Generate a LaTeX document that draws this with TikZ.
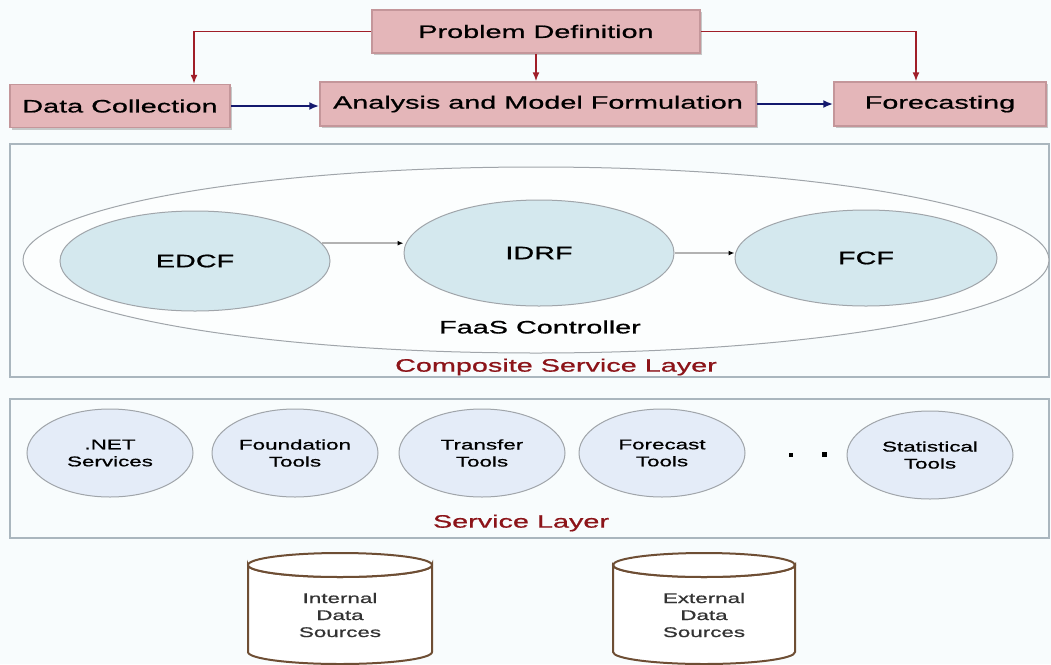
\documentclass[tikz,border=0pt]{standalone}
\usepackage{fontspec}
\setmainfont[FakeStretch=1.6,FakeBold=0.8]{Liberation Sans}
\usetikzlibrary{arrows.meta,shadows,shapes.geometric}
\definecolor{bg}{RGB}{248,252,253}
\definecolor{pinkfill}{RGB}{228,182,185}
\definecolor{pinkdraw}{RGB}{196,150,154}
\definecolor{arrred}{RGB}{160,30,40}
\definecolor{navyblue}{RGB}{20,25,110}
\definecolor{layerdraw}{RGB}{170,182,190}
\definecolor{ellfill}{RGB}{212,232,238}
\definecolor{circfill}{RGB}{228,236,248}
\definecolor{ringdraw}{RGB}{160,165,170}
\definecolor{cylbrown}{RGB}{110,78,52}
\definecolor{layertext}{RGB}{140,20,25}
\begin{document}
\begin{tikzpicture}[x=1pt,y=-1pt,
  pinkbox/.style={rectangle, draw=pinkdraw, line width=1.5pt, fill=pinkfill, inner sep=0pt,
    font=\fontsize{18}{20}\selectfont,
    drop shadow={shadow xshift=2pt, shadow yshift=-2pt, fill=gray!70, opacity=0.6}},
  redarr/.style={draw=arrred, line width=1.5pt, -{Latex[length=9pt,width=7pt]}},
  bluearr/.style={draw=navyblue, line width=2.2pt, -{Latex[length=10pt,width=8pt]}},
  grayarr/.style={draw=gray!60, line width=1.5pt, -{Latex[length=6pt,width=5pt,color=black]}},
  layerbox/.style={rectangle, draw=layerdraw, line width=2pt, fill=bg, inner sep=0pt},
  bigell/.style={ellipse, draw=ringdraw, line width=1pt, fill=white!60!bg, inner sep=0pt},
  blueell/.style={ellipse, draw=ringdraw, line width=1pt, fill=ellfill, inner sep=0pt,
    font=\fontsize{18}{20}\selectfont},
  tool/.style={ellipse, draw=ringdraw, line width=1pt, fill=circfill, inner sep=0pt,
    minimum width=166pt, minimum height=88pt, align=center, font=\fontsize{14}{17}\selectfont},
  bigtext/.style={inner sep=0pt, font=\fontsize{18}{20}\selectfont},
  cyl/.style={draw=cylbrown, line width=2pt, fill=white},
  cyltext/.style={inner sep=0pt, align=center, font=\fontsize{14}{17}\selectfont, text=black!80}
]
\fill[bg] (0,0) rectangle (1051,664);
\useasboundingbox (0,0) rectangle (1051,664);

% top process boxes
\node[pinkbox, minimum width=328pt, minimum height=43pt] (pd) at (536,31.5) {Problem Definition};
\node[pinkbox, minimum width=220pt, minimum height=43pt] (dc) at (120,106) {Data Collection};
\node[pinkbox, minimum width=436pt, minimum height=44pt] (amf) at (538,104) {Analysis and Model Formulation};
\node[pinkbox, minimum width=212pt, minimum height=44pt] (fc) at (940,104) {Forecasting};

\draw[redarr] (pd.west) -| ([xshift=74pt]dc.north);
\draw[redarr] (pd.south) -- (pd.south |- amf.north);
\draw[redarr] (pd.east) -| ([xshift=-24pt]fc.north);
\draw[bluearr] (dc.east) -- (dc.east -| amf.west);
\draw[bluearr] (amf.east) -- (amf.east -| fc.west);

% composite service layer
\node[layerbox, minimum width=1039pt, minimum height=233pt] (csl) at (529.5,260.5) {};
\node[bigell, minimum width=1026pt, minimum height=186pt] (faas) at (536,260) {};
\node[blueell, minimum width=270pt, minimum height=100pt] (edcf) at (195,261) {EDCF};
\node[blueell, minimum width=270pt, minimum height=106pt] (idrf) at (539,253) {IDRF};
\node[blueell, minimum width=262pt, minimum height=96pt] (fcf) at (866,258) {FCF};
\draw[grayarr] (edcf.8) -- (edcf.8 -| idrf.west);
\draw[grayarr] (idrf.east) -- (idrf.east -| fcf.west);
\node[bigtext] (faaslabel) at (540,327) {FaaS Controller};
\node[bigtext, text=layertext] (csllabel) at (556,367) {Composite Service Layer};

% service layer
\node[layerbox, minimum width=1039pt, minimum height=139pt] (sl) at (529.5,468.5) {};
\node[tool] (net) at (110,453) {.NET\\Services};
\node[tool] (found) at (295,453) {Foundation\\Tools};
\node[tool] (trans) at (482,453) {Transfer\\Tools};
\node[tool] (fcast) at (662,453) {Forecast\\Tools};
\node[tool] (stat) at (930,455) {Statistical\\Tools};
\fill[black] (789,453) rectangle (793,457);
\fill[black] (822,452) rectangle (827,457);
\node[bigtext, text=layertext] (sllabel) at (521,523) {Service Layer};

% data sources
\path[cyl] (248,565) -- (248,652) arc[start angle=180, end angle=0, x radius=92, y radius=12] -- (432,565) arc[start angle=0, end angle=180, x radius=92, y radius=12] -- cycle;
\draw[cyl] (340,565) ellipse[x radius=92, y radius=12];
\node[cyltext] (ids) at (340,615) {Internal\\Data\\Sources};
\path[cyl] (613,565) -- (613,652) arc[start angle=180, end angle=0, x radius=91, y radius=12] -- (795,565) arc[start angle=0, end angle=180, x radius=91, y radius=12] -- cycle;
\draw[cyl] (704,565) ellipse[x radius=91, y radius=12];
\node[cyltext] (eds) at (704,615) {External\\Data\\Sources};
\end{tikzpicture}
\end{document}
